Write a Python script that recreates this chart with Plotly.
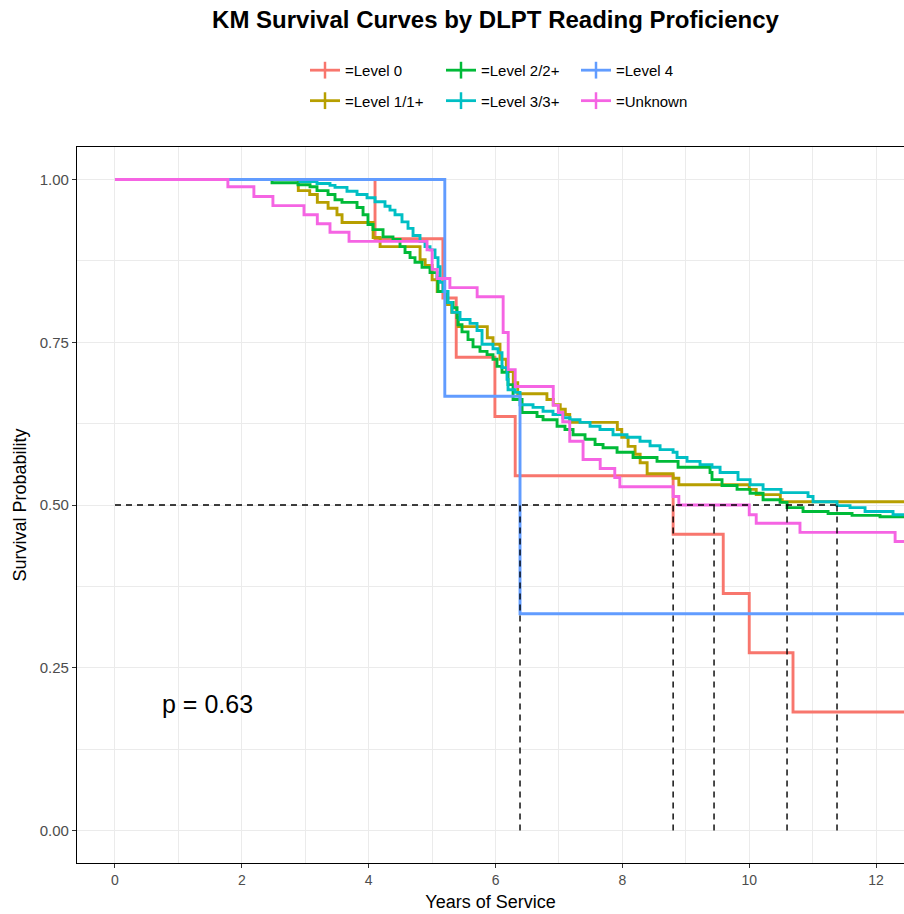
import plotly.graph_objects as go

# ---------------- data ----------------
groups = ["=Level 0", "=Level 1/1+", "=Level 2/2+", "=Level 3/3+", "=Level 4", "=Unknown"]
colors = ["#F8766D", "#B79F00", "#00BA38", "#00BFC4", "#619CFF", "#F564E3"]

level0_time = [4.10, 5.17, 5.38, 5.99, 6.31, 8.80, 9.59, 10.00, 10.69]
level0_surv = [0.909, 0.818, 0.727, 0.636, 0.545, 0.455, 0.364, 0.273, 0.182]

level1_time = [2.89, 3.07, 3.19, 3.36, 3.50, 3.58, 4.07, 4.18, 4.81, 4.89, 5.00, 5.08,
               5.23, 5.31, 5.41, 5.87, 5.96, 6.07, 6.17, 6.28, 6.35, 6.81, 6.91, 7.02,
               7.10, 7.17, 7.92, 7.99, 8.09, 8.20, 8.28, 8.39, 8.80, 8.89, 10.00, 10.11,
               10.49, 10.52]
level1_surv = [0.983, 0.977, 0.965, 0.956, 0.946, 0.934, 0.911, 0.897, 0.877, 0.868, 0.846, 0.828,
               0.808, 0.796, 0.774, 0.757, 0.747, 0.724, 0.705, 0.688, 0.671, 0.662, 0.654, 0.647,
               0.639, 0.627, 0.616, 0.604, 0.590, 0.578, 0.565, 0.548, 0.541, 0.531, 0.524, 0.516,
               0.508, 0.505]

level2_time = [2.476, 2.886, 3.075, 3.185, 3.359, 3.469, 3.579, 3.816, 3.911, 3.989, 4.068, 4.226,
               4.383, 4.494, 4.573, 4.652, 4.730, 4.841, 4.967, 5.077, 5.093, 5.235, 5.330, 5.393,
               5.408, 5.471, 5.566, 5.645, 5.755, 5.866, 5.960, 6.023, 6.102, 6.197, 6.276, 6.418,
               6.654, 6.749, 6.970, 7.095, 7.222, 7.411, 7.569, 7.695, 7.916, 8.168, 8.546, 8.878,
               9.382, 9.413, 9.571, 9.808, 10.013, 10.218, 10.486, 10.596, 10.848, 11.243, 11.621,
               12.062]
level2_surv = [0.995, 0.992, 0.989, 0.983, 0.977, 0.969, 0.965, 0.957, 0.946, 0.931, 0.923, 0.912,
               0.908, 0.897, 0.888, 0.880, 0.873, 0.865, 0.857, 0.850, 0.828, 0.811, 0.803, 0.788,
               0.777, 0.766, 0.754, 0.743, 0.736, 0.731, 0.724, 0.713, 0.704, 0.685, 0.662, 0.642,
               0.636, 0.631, 0.621, 0.616, 0.608, 0.601, 0.593, 0.588, 0.581, 0.573, 0.567, 0.558,
               0.550, 0.539, 0.530, 0.524, 0.518, 0.508, 0.504, 0.496, 0.490, 0.487, 0.484,
               0.482]

level3_time = [2.917, 3.185, 3.390, 3.469, 3.658, 3.816, 3.974, 4.100, 4.257, 4.336, 4.415, 4.525,
               4.620, 4.699, 4.809, 4.888, 4.967, 5.046, 5.093, 5.125, 5.172, 5.251, 5.314, 5.440,
               5.598, 5.708, 5.787, 5.960, 6.039, 6.102, 6.181, 6.197, 6.307, 6.386, 6.591, 6.749,
               6.906, 7.064, 7.174, 7.332, 7.490, 7.647, 7.852, 8.073, 8.278, 8.436, 8.594, 8.799,
               8.862, 9.019, 9.224, 9.413, 9.540, 9.823, 10.013, 10.218, 10.501, 10.927, 11.006,
               11.384, 11.589, 11.826, 12.267]
level3_surv = [0.997, 0.994, 0.991, 0.988, 0.982, 0.977, 0.972, 0.966, 0.959, 0.953, 0.946, 0.935,
               0.925, 0.914, 0.905, 0.897, 0.892, 0.880, 0.866, 0.842, 0.828, 0.811, 0.796, 0.785,
               0.779, 0.768, 0.747, 0.740, 0.734, 0.711, 0.693, 0.677, 0.673, 0.654, 0.650, 0.644,
               0.639, 0.634, 0.631, 0.627, 0.621, 0.616, 0.608, 0.604, 0.598, 0.591, 0.585, 0.581,
               0.573, 0.567, 0.562, 0.558, 0.550, 0.539, 0.531, 0.524, 0.519, 0.513, 0.505,
               0.499, 0.496, 0.490, 0.485]

level4_time = [5.20, 6.386]
level4_surv = [0.667, 0.333]

unknown_time = [1.78, 2.19, 2.49, 2.98, 3.19, 3.39, 3.69, 4.92, 5.00, 5.08, 5.28, 5.71, 6.12,
                6.20, 6.31, 6.91, 6.99, 7.06, 7.17, 7.38, 7.65, 7.88, 7.96, 8.80, 8.89, 10.00,
                10.11, 10.80, 12.30]
unknown_surv = [0.989, 0.974, 0.960, 0.946, 0.932, 0.919, 0.905, 0.892, 0.862, 0.848, 0.834,
                0.820, 0.765, 0.708, 0.682, 0.653, 0.642, 0.628, 0.598, 0.570, 0.556, 0.542,
                0.528, 0.513, 0.500, 0.485, 0.472, 0.458, 0.444]

end_time = 13.0
p_label = "p = 0.63"
x_ticks = [0, 2, 4, 6, 8, 10, 12]
y_ticks = [0.0, 0.25, 0.5, 0.75, 1.0]

series = [
    (level0_time, level0_surv),
    (level1_time, level1_surv),
    (level2_time, level2_surv),
    (level3_time, level3_surv),
    (level4_time, level4_surv),
    (unknown_time, unknown_surv),
]


def km_median(t, s):
    for i, v in enumerate(s):
        if v <= 0.5 + 1e-9:
            if abs(v - 0.5) < 1e-6:
                nxt = t[i + 1] if i + 1 < len(t) else end_time
                return (t[i] + nxt) / 2.0
            return t[i]
    return None


fig = go.Figure()

for (t, s), name, col in zip(series, groups, colors):
    xs = [0.0] + list(t) + [end_time]
    ys = [1.0] + list(s) + [s[-1]]
    fig.add_trace(go.Scatter(x=xs, y=ys, mode="lines", line=dict(color=col, width=2.9, shape="hv"),
                             showlegend=False, hoverinfo="skip"))

# median lines
medians = [m for m in (km_median(t, s) for t, s in series) if m is not None]
fig.add_trace(go.Scatter(x=[0, max(medians)], y=[0.5, 0.5], mode="lines",
                         line=dict(color="black", width=1.4, dash="6px,5px"),
                         showlegend=False, hoverinfo="skip"))
for m in medians:
    fig.add_trace(go.Scatter(x=[m, m], y=[0, 0.5], mode="lines",
                             line=dict(color="black", width=1.4, dash="6px,5px"),
                             showlegend=False, hoverinfo="skip"))

# legend entries (3 columns x 2 rows, filled by column)
legend_ids = ["legend", "legend", "legend2", "legend2", "legend3", "legend3"]
for i, (name, col) in enumerate(zip(groups, colors)):
    fig.add_trace(go.Scatter(x=[None], y=[None], mode="lines+markers", name=name,
                             line=dict(color=col, width=2.8),
                             marker=dict(symbol="line-ns-open", size=12, color=col,
                                         line=dict(color=col, width=2.5)),
                             legend=legend_ids[i], legendgroup="g%d" % i))

fig.add_annotation(x=0.71, y=0.195, text=p_label, showarrow=False, xanchor="left",
                   yanchor="middle", font=dict(size=25, color="black"))

grid_col = "#EBEBEB"
legend_common = dict(orientation="v", yanchor="top", xanchor="left", bgcolor="rgba(0,0,0,0)",
                     font=dict(size=15, color="black"), tracegroupgap=8, itemwidth=30,
                     borderwidth=0)

fig.update_layout(
    width=904, height=914,
    margin=dict(l=77, r=0, t=147, b=51, autoexpand=False),
    paper_bgcolor="white", plot_bgcolor="white",
    font=dict(family="Liberation Sans, Arial, sans-serif", color="black"),
    title=dict(text="<b>KM Survival Curves by DLPT Reading Proficiency</b>",
               x=495.5 / 904, xref="container", xanchor="center",
               y=1 - 20 / 914, yref="container", yanchor="middle",
               font=dict(size=24, color="black")),
    legend=dict(x=(305 - 77) / 827, y=1.13, **legend_common),
    legend2=dict(x=(441 - 77) / 827, y=1.13, **legend_common),
    legend3=dict(x=(576 - 77) / 827, y=1.13, **legend_common),
    xaxis=dict(range=[-0.599, 12.44], tickvals=x_ticks, ticks="outside", ticklen=4,
               tickcolor="#333333", tickwidth=1, tickfont=dict(size=14, color="#4D4D4D"),
               showgrid=True, gridcolor=grid_col, gridwidth=1.4,
               minor=dict(dtick=1, tick0=0, showgrid=True, gridcolor=grid_col, gridwidth=0.7),
               showline=True, linecolor="black", linewidth=1.2, mirror=True,
               zeroline=False, automargin=False,
               title=dict(text="Years of Service", font=dict(size=18, color="black"), standoff=8)),
    yaxis=dict(range=[-0.05, 1.05], tickvals=y_ticks, tickformat=".2f", ticks="outside",
               ticklen=4, tickcolor="#333333", tickwidth=1,
               tickfont=dict(size=15, color="#4D4D4D"),
               showgrid=True, gridcolor=grid_col, gridwidth=1.4,
               minor=dict(dtick=0.25, tick0=0.125, showgrid=True, gridcolor=grid_col, gridwidth=0.7),
               showline=True, linecolor="black", linewidth=1.2,
               zeroline=False, automargin=False,
               title=dict(text="Survival Probability", font=dict(size=18, color="black"), standoff=8)),
)

fig.write_html("out.html")
